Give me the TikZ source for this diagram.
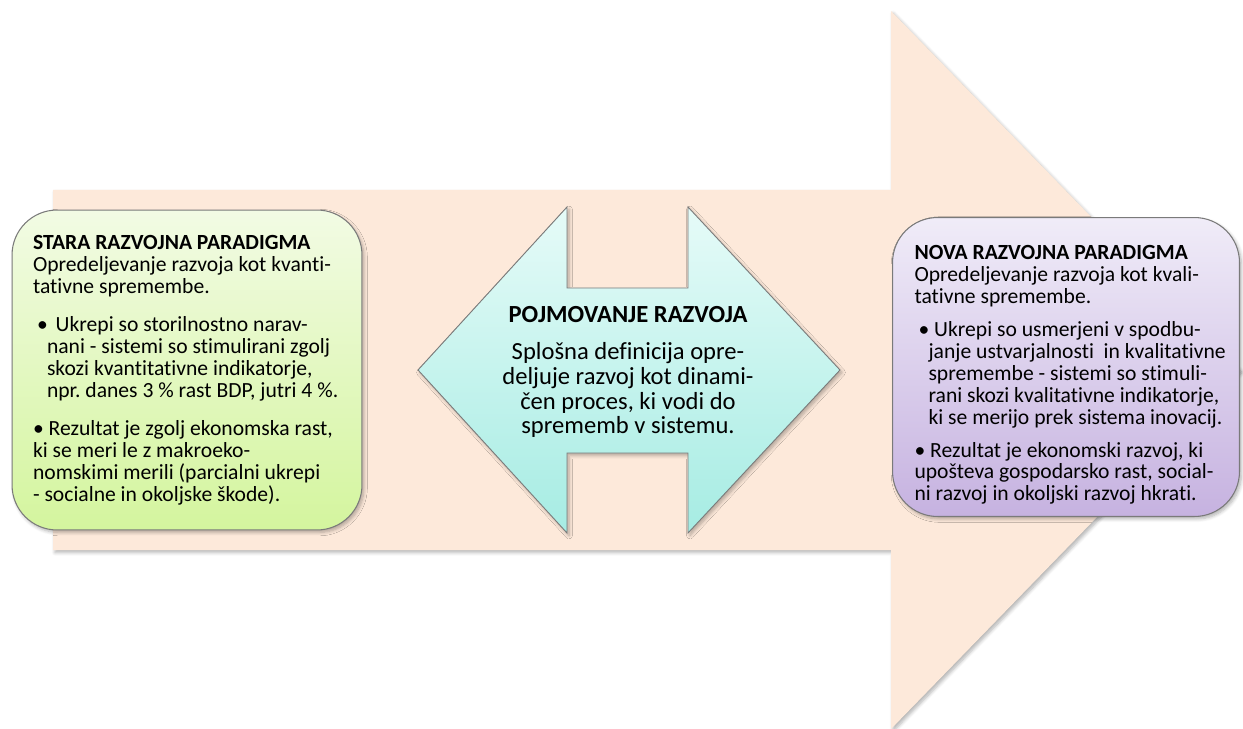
\documentclass[tikz,border=0pt]{standalone}
\usepackage{fontspec}
\setmainfont{Carlito}[Ligatures=NoCommon]
\usepackage{xcolor}
\usetikzlibrary{positioning}
\usetikzlibrary{shadows.blur}
\frenchspacing

\definecolor{breskev}{HTML}{FDE9DA}
\definecolor{zelenaA}{HTML}{F2FBE4}
\definecolor{zelenaB}{HTML}{D4F59E}
\definecolor{turkizA}{HTML}{E6FBF8}
\definecolor{turkizB}{HTML}{A6ECE3}
\definecolor{vijolaA}{HTML}{F0ECF8}
\definecolor{vijolaB}{HTML}{C6B2E0}
\definecolor{rob}{HTML}{7A7A7A}

\tikzset{
  senca/.style={blur shadow={shadow blur steps=6, shadow xshift=0.04cm, shadow yshift=-0.05cm, shadow opacity=30}},
  okvir/.style={draw=rob, line width=0.6pt, rounded corners=0.9cm, senca,
    align=flush left, inner ysep=0pt, font=\fontsize{12.3pt}{12.5pt}\selectfont},
}

\newcommand{\tocka}[2][0.32cm]{\par\vspace{#1}\leftskip=0.08cm\hangindent=0.2cm\hangafter=1 \textbullet\ #2}

\begin{document}
\begin{tikzpicture}[x=0.02cm, y=-0.02cm]

        \useasboundingbox (0,0) rectangle (1243,729);

        % Velika puščica
        \fill[breskev, senca] (53,190) -- (891,190) -- (891,11) -- (1240,370)
              -- (891,729) -- (891,550) -- (53,550) -- cycle;

        % Dvojna puščica
        \draw[rob, line width=0.5pt, top color=turkizA, bottom color=turkizB, senca]
              (418,370) -- (567,207) -- (567,288) -- (688,288) -- (688,207)
              -- (840,370) -- (688,533) -- (688,453) -- (567,453) -- (567,533) -- cycle;

        % Okvirji
        \node[okvir, top color=zelenaA, bottom color=zelenaB, inner xsep=0.42cm,
              text width=6.16cm, minimum width=7cm, minimum height=6.4cm] (stara) at (187,370)
              {\rightskip=-0.6cm plus 1fil\relax
               \textbf{STARA RAZVOJNA PARADIGMA}\newline
               Opredeljevanje razvoja kot kvanti-\newline tativne spremembe.
               \tocka{\hspace{0.06cm}Ukrepi so storilnostno narav-\newline nani - sistemi so stimulirani zgolj\newline
                      skozi kvantitativne indikatorje,\newline npr. danes 3 \% rast BDP, jutri 4 \%.}
               \tocka{Rezultat je zgolj ekonomska rast,\newline ki se meri le z makroeko-\newline
                      nomskimi merili (parcialni ukrepi\newline - socialne in okoljske škode).}};

        \node[okvir, top color=vijolaA, bottom color=vijolaB, inner xsep=0.44cm,
              text width=6.06cm, minimum width=6.94cm, minimum height=5.98cm] (nova) at (1066,367)
              {\rightskip=-0.6cm plus 1fil\relax
               \rule{0pt}{0.6cm}\textbf{NOVA RAZVOJNA PARADIGMA}\newline
               Opredeljevanje razvoja kot kvali-\newline tativne spremembe.
               \tocka[0.22cm]{Ukrepi so usmerjeni v spodbu-\newline janje ustvarjalnosti\ \ in kvalitativne\newline
                      spremembe - sistemi so stimuli-\newline rani skozi kvalitativne indikatorje,\newline
                      ki se merijo prek sistema inovacij.}
               \tocka[0.22cm]{Rezultat je ekonomski razvoj, ki\newline upošteva gospodarsko rast, social-\newline
                      ni razvoj in okoljski razvoj hkrati.}};

        \node[align=center, font=\fontsize{14pt}{14.2pt}\selectfont] (pojem) at (628,372)
              {\textbf{POJMOVANJE RAZVOJA}\\[0.24cm]
               Splošna definicija opre-\\ deljuje razvoj kot dinami-\\
               čen proces, ki vodi do\\ sprememb v sistemu.};

    \end{tikzpicture}
\end{document}
